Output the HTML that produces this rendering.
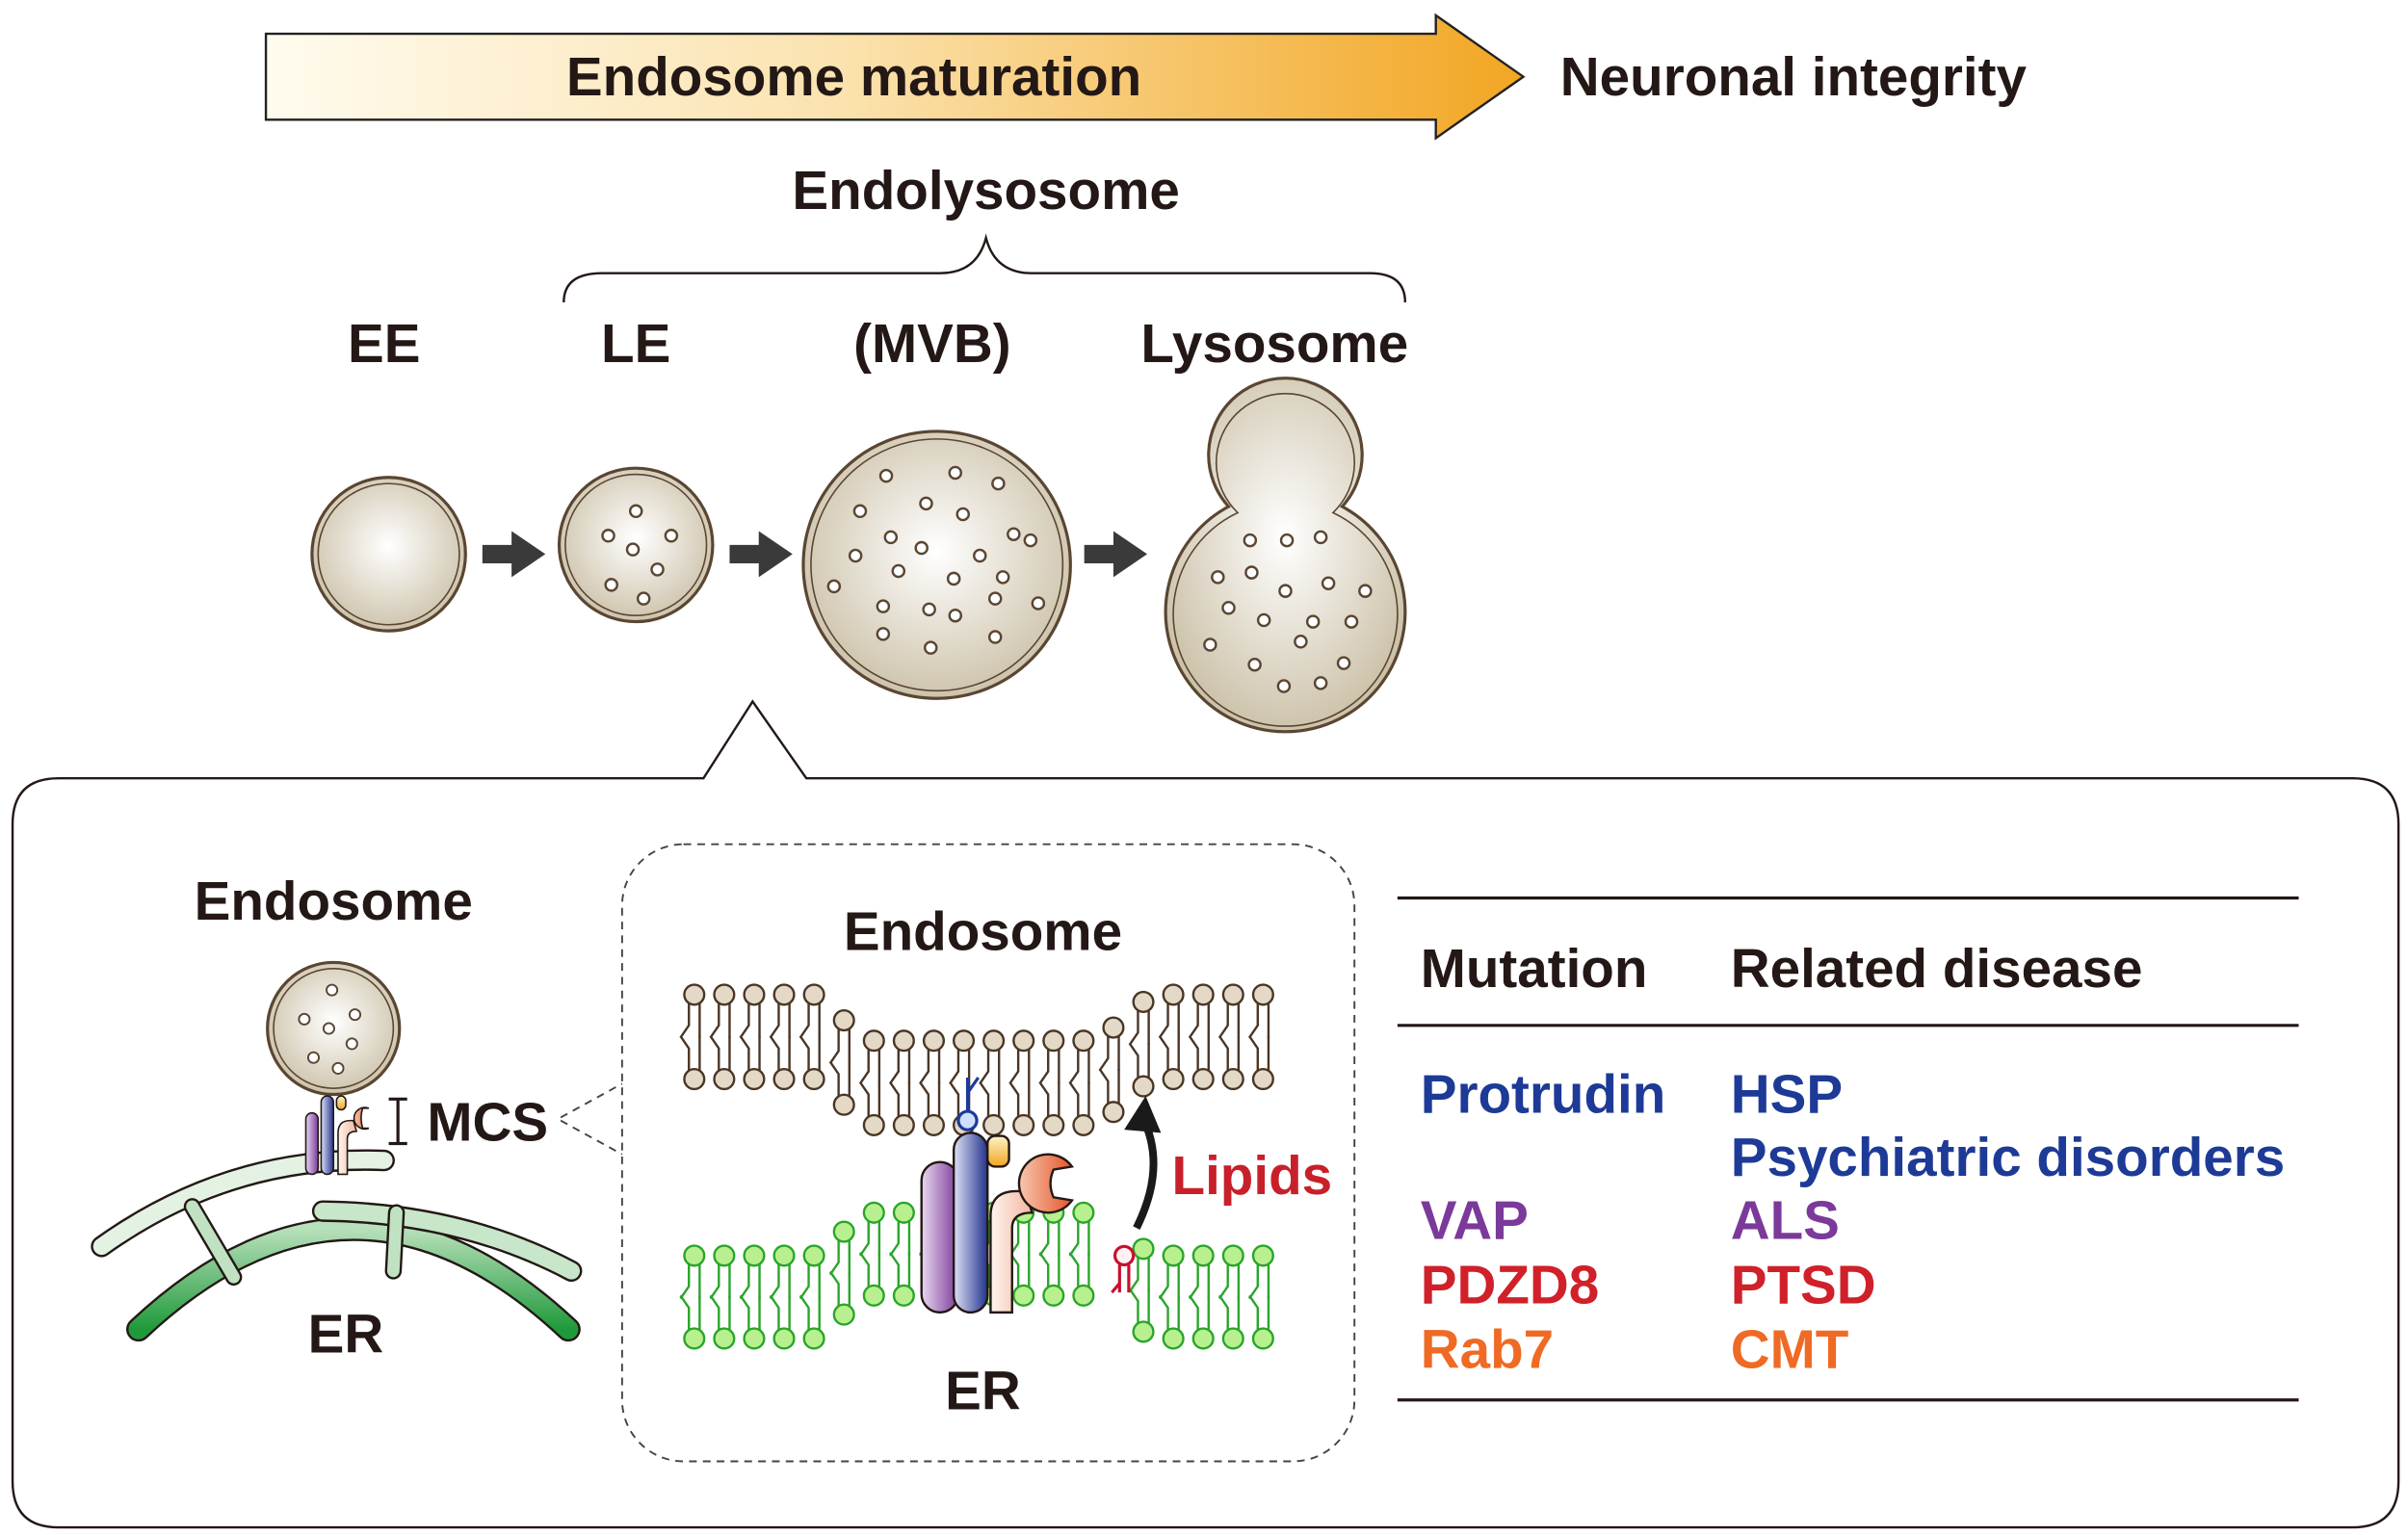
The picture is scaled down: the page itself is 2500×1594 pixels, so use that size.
<!DOCTYPE html>
<html><head><meta charset="utf-8"><style>
html,body{margin:0;padding:0;background:#fff}
svg{display:block}
text{font-family:"Liberation Sans",Arial,sans-serif;font-weight:bold}
</style></head><body>
<svg id="s" width="2500" height="1594" viewBox="0 0 1568 1000" xmlns="http://www.w3.org/2000/svg">
<defs>
<linearGradient id="ga" x1="0" x2="1" y1="0" y2="0"><stop offset="0" stop-color="#fffbee"/><stop offset="0.45" stop-color="#fbe3b0"/><stop offset="1" stop-color="#f2a623"/></linearGradient>
<radialGradient id="gv" cx="0.5" cy="0.45" r="0.6"><stop offset="0" stop-color="#ffffff"/><stop offset="1" stop-color="#c9bea4"/></radialGradient>
<linearGradient id="gpu" x1="0" x2="1"><stop offset="0" stop-color="#e8d8f0"/><stop offset="1" stop-color="#7b3a9a"/></linearGradient>
<linearGradient id="gbl" x1="0" x2="1"><stop offset="0" stop-color="#dfe2f5"/><stop offset="1" stop-color="#23338f"/></linearGradient>
<linearGradient id="gpk" x1="0" x2="1"><stop offset="0" stop-color="#fff4ee"/><stop offset="1" stop-color="#f2b7a0"/></linearGradient>
<linearGradient id="gor" x1="0" x2="1"><stop offset="0" stop-color="#f7c8b0"/><stop offset="1" stop-color="#e4552a"/></linearGradient>
<linearGradient id="gy" x1="0" x2="0" y1="0" y2="1"><stop offset="0" stop-color="#fff3c8"/><stop offset="1" stop-color="#f0a623"/></linearGradient>
<linearGradient id="ger2" x1="0" x2="0" y1="0" y2="1"><stop offset="0" stop-color="#b8e0bb"/><stop offset="1" stop-color="#1f9a3a"/></linearGradient>
</defs>

<path d="M173,22 H935 V10 L992,50 L935,90 V78 H173 Z" fill="url(#ga)" stroke="#222" stroke-width="1.5"/>
<g font-size="35.5" fill="#231815">
<text x="556" y="62" text-anchor="middle">Endosome maturation</text>
<text x="1016" y="62">Neuronal integrity</text>
<text x="642" y="136" text-anchor="middle">Endolysosome</text>
<text x="250" y="236" text-anchor="middle">EE</text>
<text x="414" y="236" text-anchor="middle">LE</text>
<text x="607" y="236" text-anchor="middle">(MVB)</text>
<text x="830" y="236" text-anchor="middle">Lysosome</text>
</g>
<path d="M367,197 Q367,178 392,178 H612 Q636,178 642,155 Q648,178 672,178 H892 Q915,178 915,197" fill="none" stroke="#231815" stroke-width="1.5"/>

<g stroke="#5a4632" stroke-width="2">
<circle cx="253" cy="361" r="50" fill="url(#gv)"/>
<circle cx="253" cy="361" r="46" fill="none" stroke-width="1"/>
<circle cx="414" cy="355" r="50" fill="url(#gv)"/>
<circle cx="414" cy="355" r="46" fill="none" stroke-width="1"/>
<circle cx="610" cy="368" r="87" fill="url(#gv)"/>
<circle cx="610" cy="368" r="82" fill="none" stroke-width="1"/>
<path d="M800,330 A78,78 0 1 0 874,330 A50,50 0 1 0 800,330 Z" fill="url(#gv)"/>
<path d="M806,334 A73,73 0 1 0 868,334 A45,45 0 1 0 806,334 Z" fill="none" stroke-width="1"/>
</g>
<g id="dots" fill="#fff" stroke="#5a4632" stroke-width="1.5"></g>

<g fill="#3a3a3a">
<path d="M314,355 H333 V346 L355,361 L333,376 V367 H314 Z"/>
<path d="M475,355 H494 V346 L516,361 L494,376 V367 H475 Z"/>
<path d="M706,355 H725 V346 L747,361 L725,376 V367 H706 Z"/>
</g>

<path d="M38,507 H458 L490,457 L525,507 H1532 Q1562,507 1562,537 V965 Q1562,995 1532,995 H38 Q8,995 8,965 V537 Q8,507 38,507 Z" fill="#fff" stroke="#231815" stroke-width="1.5"/>

<text x="217" y="599" font-size="35.5" text-anchor="middle" fill="#231815">Endosome</text>
<g stroke="#231815" stroke-width="1.5" stroke-linecap="round" fill="none">
<path d="M90,866 Q230,735 370,866" stroke-width="16"/>
<path d="M90,866 Q230,735 370,866" stroke="url(#ger2)" stroke-width="13"/>
<path d="M66,812 Q150,752 250,756" stroke-width="14"/>
<path d="M66,812 Q150,752 250,756" stroke="#e3f2e3" stroke-width="11"/>
<path d="M210,789 Q300,790 372,828" stroke-width="14"/>
<path d="M210,789 Q300,790 372,828" stroke="#c8e6c9" stroke-width="11"/>
<path d="M125,786 L152,832" stroke-width="11"/>
<path d="M125,786 L152,832" stroke="#c0e2c2" stroke-width="8"/>
<path d="M258,790 L256,828" stroke-width="11"/>
<path d="M258,790 L256,828" stroke="#c0e2c2" stroke-width="8"/>
</g>
<circle cx="217" cy="670" r="43" fill="url(#gv)" stroke="#5a4632" stroke-width="2"/>
<circle cx="217" cy="670" r="39" fill="none" stroke="#5a4632" stroke-width="1"/>
<g fill="#fff" stroke="#5a4632" stroke-width="1.2">
<circle cx="216" cy="645" r="3.5"/><circle cx="198" cy="664" r="3.5"/><circle cx="231" cy="661" r="3.5"/>
<circle cx="214" cy="670" r="3.5"/><circle cx="229" cy="680" r="3.5"/><circle cx="204" cy="689" r="3.5"/><circle cx="220" cy="696" r="3.5"/>
</g>
<g stroke="#231815" stroke-width="1">
<rect x="199" y="725" width="8" height="40" rx="4" fill="url(#gpu)"/>
<rect x="209" y="714" width="8" height="51" rx="4" fill="url(#gbl)"/>
<rect x="219" y="714" width="6" height="9" rx="3" fill="url(#gy)"/>
<path d="M220,765 V738 Q220,730 228,730 L230,730 L232,737 Q226,737 226,742 V765 Z" fill="url(#gpk)"/>
<path d="M240,722 A7,7 0 1 0 240,735 L236,735 Q234,728 236,722 Z" fill="url(#gor)"/>
</g>
<path d="M253,716 H265 M259,716 V745 M253,745 H265" stroke="#231815" stroke-width="2" fill="none"/>
<text x="278" y="743" font-size="35.5" fill="#231815">MCS</text>
<text x="225" y="881" font-size="35.5" text-anchor="middle" fill="#231815">ER</text>

<path d="M365,728 L405,706 M365,730 L405,752" stroke="#444" stroke-width="1.2" stroke-dasharray="5,4" fill="none"/>
<rect x="405" y="550" width="477" height="402" rx="40" fill="none" stroke="#444" stroke-width="1.2" stroke-dasharray="5,4"/>
<text x="640" y="619" font-size="35.5" text-anchor="middle" fill="#231815">Endosome</text>
<text x="640" y="918" font-size="35.5" text-anchor="middle" fill="#231815">ER</text>
<g id="mem"></g>

<g stroke="#231815" stroke-width="1.5">
<rect x="600" y="757" width="24" height="98" rx="12" fill="url(#gpu)"/>
<rect x="621" y="738" width="22" height="117" rx="11" fill="url(#gbl)"/>
<rect x="643" y="740" width="14" height="20" rx="5" fill="url(#gy)"/>
<path d="M645,855 V792 Q645,776 662,776 L668,776 L672,790 Q659,790 659,800 V855 Z" fill="url(#gpk)"/>
<path d="M698,760 A19,19 0 1 0 698,782 L686,780 Q682,771 686,762 Z" fill="url(#gor)"/>
</g>
<circle cx="630" cy="730" r="6" fill="#cfe0ff" stroke="#1d3a9a" stroke-width="2"/>
<path d="M630,724 V702 M630,712 L637,702" stroke="#1d3a9a" stroke-width="2" fill="none"/>
<circle cx="732" cy="818" r="6" fill="#fff0f4" stroke="#c8102e" stroke-width="2"/>
<path d="M729,824 V842 M735,824 V842 M729,836 L724,842" stroke="#c8102e" stroke-width="2" fill="none"/>
<path d="M740,800 Q760,760 744,728" stroke="#1a1a1a" stroke-width="5" fill="none"/>
<path d="M732,736 L746,714 L756,738 Z" fill="#1a1a1a"/>
<text x="763" y="778" font-size="35.5" fill="#c8202a">Lipids</text>

<g stroke="#231815" stroke-width="2">
<line x1="910" y1="585" x2="1497" y2="585"/><line x1="910" y1="668" x2="1497" y2="668"/><line x1="910" y1="912" x2="1497" y2="912"/>
</g>
<g font-size="35.5">
<text x="925" y="643" fill="#231815">Mutation</text>
<text x="1127" y="643" fill="#231815">Related disease</text>
<text x="925" y="725" fill="#1d3a96">Protrudin</text>
<text x="1127" y="725" fill="#1d3a96">HSP</text>
<text x="1127" y="766" fill="#1d3a96">Psychiatric disorders</text>
<text x="925" y="807" fill="#7b3a9a">VAP</text>
<text x="1127" y="807" fill="#7b3a9a">ALS</text>
<text x="925" y="849" fill="#d0202a">PDZD8</text>
<text x="1127" y="849" fill="#d0202a">PTSD</text>
<text x="925" y="891" fill="#ef6a24">Rab7</text>
<text x="1127" y="891" fill="#ef6a24">CMT</text>
</g>
</svg>
<script>
var NS="http://www.w3.org/2000/svg";
function el(p,t,a){var e=document.createElementNS(NS,t);for(var k in a)e.setAttribute(k,a[k]);p.appendChild(e);return e;}
var dots=document.getElementById('dots');
[[414,333],[396,349],[437,349],[412,358],[428,371],[398,381],[419,390],
[577,310],[622,308],[650,315],[603,328],[560,333],[580,350],[627,335],[660,348],[600,357],[638,362],[671,352],[557,362],[585,372],[621,377],[653,376],[543,382],[575,395],[605,397],[648,390],[676,393],[575,413],[622,401],[606,422],[648,415],
[814,352],[838,352],[860,350],[793,376],[815,373],[837,385],[865,380],[889,385],[800,396],[823,404],[855,405],[880,405],[788,420],[817,433],[847,418],[875,432],[836,447],[860,445]
].forEach(function(d){el(dots,'circle',{cx:d[0],cy:d[1],r:3.8});});
var mem=document.getElementById('mem');
function dip(x,depth,dirUp){var dx=Math.abs(x-640);var f=dx<75?1:(dx>110?0:(110-dx)/35);return depth*f*(dirUp?-1:1);}
function lip(x,y,down,col){
 var g=el(mem,'g',{stroke:col,'stroke-width':1.5,fill:'none'});
 el(g,'path',{d:'M'+(x-3.5)+','+(y+5*down)+' V'+(y+20*down)+' L'+(x-9)+','+(y+28*down)+' M'+(x+3.5)+','+(y+5*down)+' V'+(y+28*down)});
}
function head(x,y,col,fill){el(mem,'circle',{cx:x,cy:y,r:6.5,fill:fill,stroke:col,'stroke-width':1.5});}
var bc='#4a3626',bf='#e3d9c6',gc='#2aa52a',gf='#b8f090';
for(var x=452;x<=830;x+=19.5){
 var d=dip(x,30,false);
 lip(x,648+d,1,bc);lip(x,703+d,-1,bc);head(x,648+d,bc,bf);head(x,703+d,bc,bf);
 if(Math.abs(x-732)<8)continue;
 var u=dip(x,28,true);
 lip(x,818+u,1,gc);lip(x,872+u,-1,gc);head(x,818+u,gc,gf);head(x,872+u,gc,gf);
}
</script>
</body></html>
